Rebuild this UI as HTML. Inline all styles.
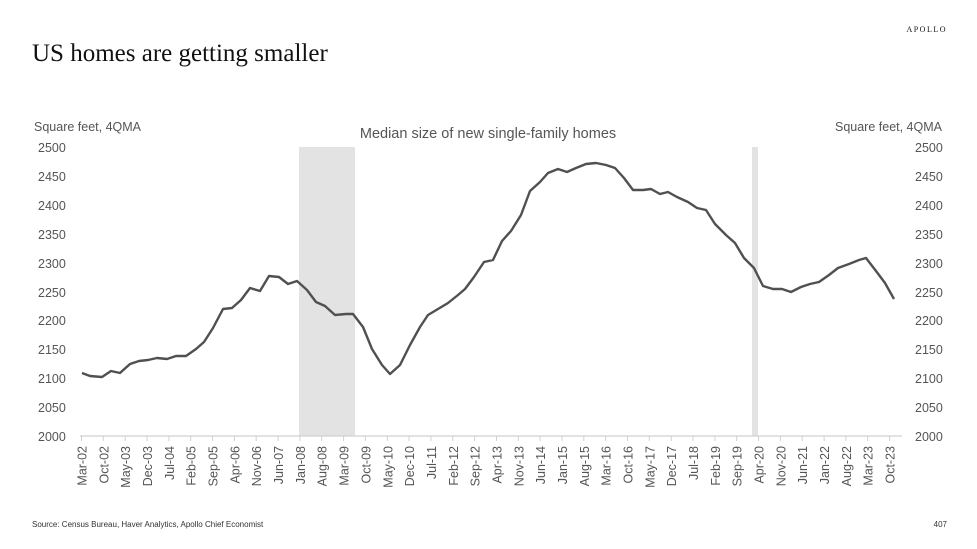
<!DOCTYPE html>
<html><head><meta charset="utf-8"><style>
body{margin:0;background:#fff;}
svg{display:block;}
</style></head><body>
<svg width="977" height="549" viewBox="0 0 977 549" xmlns="http://www.w3.org/2000/svg" font-family="'Liberation Sans', sans-serif">
<text x="32" y="61" font-family="'Liberation Serif', serif" font-size="25" fill="#111">US homes are getting smaller</text>
<text x="947" y="32" font-family="'Liberation Serif', serif" font-size="8" letter-spacing="1.5" text-anchor="end" fill="#111">APOLLO</text>
<text x="34" y="131" font-size="12.5" fill="#555">Square feet, 4QMA</text>
<text x="942" y="131" font-size="12.5" fill="#555" text-anchor="end">Square feet, 4QMA</text>
<text x="488" y="138" font-size="14.5" fill="#555" text-anchor="middle">Median size of new single-family homes</text>
<rect x="299" y="147" width="56" height="289" fill="#e3e3e3"/>
<rect x="752" y="147" width="6" height="289" fill="#e3e3e3"/>
<g font-size="12.5" fill="#555">
<text x="38" y="152">2500</text><text x="38" y="181">2450</text><text x="38" y="210">2400</text><text x="38" y="239">2350</text><text x="38" y="268">2300</text><text x="38" y="297">2250</text><text x="38" y="325">2200</text><text x="38" y="354">2150</text><text x="38" y="383">2100</text><text x="38" y="412">2050</text><text x="38" y="441">2000</text>
<text x="915" y="152">2500</text><text x="915" y="181">2450</text><text x="915" y="210">2400</text><text x="915" y="239">2350</text><text x="915" y="268">2300</text><text x="915" y="297">2250</text><text x="915" y="325">2200</text><text x="915" y="354">2150</text><text x="915" y="383">2100</text><text x="915" y="412">2050</text><text x="915" y="441">2000</text>
</g>
<line x1="80" y1="436" x2="902" y2="436" stroke="#d0d0d0" stroke-width="1.2"/>
<path stroke="#d0d0d0" stroke-width="1" d="M81.5 436v5M103.3 436v5M125.2 436v5M147 436v5M168.9 436v5M190.7 436v5M212.5 436v5M234.4 436v5M256.2 436v5M278.1 436v5M299.9 436v5M321.7 436v5M343.6 436v5M365.4 436v5M387.3 436v5M409.1 436v5M430.9 436v5M452.8 436v5M474.6 436v5M496.5 436v5M518.3 436v5M540.1 436v5M562 436v5M583.8 436v5M605.7 436v5M627.5 436v5M649.3 436v5M671.2 436v5M693 436v5M714.9 436v5M736.7 436v5M758.5 436v5M780.4 436v5M802.2 436v5M824.1 436v5M845.9 436v5M867.7 436v5M889.6 436v5"/>
<g font-size="12.5" fill="#555" text-anchor="end">
<text transform="translate(86.5,446) rotate(-90)">Mar-02</text>
<text transform="translate(108.3,446) rotate(-90)">Oct-02</text>
<text transform="translate(130.2,446) rotate(-90)">May-03</text>
<text transform="translate(152,446) rotate(-90)">Dec-03</text>
<text transform="translate(173.9,446) rotate(-90)">Jul-04</text>
<text transform="translate(195.7,446) rotate(-90)">Feb-05</text>
<text transform="translate(217.5,446) rotate(-90)">Sep-05</text>
<text transform="translate(239.4,446) rotate(-90)">Apr-06</text>
<text transform="translate(261.2,446) rotate(-90)">Nov-06</text>
<text transform="translate(283.1,446) rotate(-90)">Jun-07</text>
<text transform="translate(304.9,446) rotate(-90)">Jan-08</text>
<text transform="translate(326.7,446) rotate(-90)">Aug-08</text>
<text transform="translate(348.6,446) rotate(-90)">Mar-09</text>
<text transform="translate(370.4,446) rotate(-90)">Oct-09</text>
<text transform="translate(392.3,446) rotate(-90)">May-10</text>
<text transform="translate(414.1,446) rotate(-90)">Dec-10</text>
<text transform="translate(435.9,446) rotate(-90)">Jul-11</text>
<text transform="translate(457.8,446) rotate(-90)">Feb-12</text>
<text transform="translate(479.6,446) rotate(-90)">Sep-12</text>
<text transform="translate(501.5,446) rotate(-90)">Apr-13</text>
<text transform="translate(523.3,446) rotate(-90)">Nov-13</text>
<text transform="translate(545.1,446) rotate(-90)">Jun-14</text>
<text transform="translate(567,446) rotate(-90)">Jan-15</text>
<text transform="translate(588.8,446) rotate(-90)">Aug-15</text>
<text transform="translate(610.7,446) rotate(-90)">Mar-16</text>
<text transform="translate(632.5,446) rotate(-90)">Oct-16</text>
<text transform="translate(654.3,446) rotate(-90)">May-17</text>
<text transform="translate(676.2,446) rotate(-90)">Dec-17</text>
<text transform="translate(698,446) rotate(-90)">Jul-18</text>
<text transform="translate(719.9,446) rotate(-90)">Feb-19</text>
<text transform="translate(741.7,446) rotate(-90)">Sep-19</text>
<text transform="translate(763.5,446) rotate(-90)">Apr-20</text>
<text transform="translate(785.4,446) rotate(-90)">Nov-20</text>
<text transform="translate(807.2,446) rotate(-90)">Jun-21</text>
<text transform="translate(829.1,446) rotate(-90)">Jan-22</text>
<text transform="translate(850.9,446) rotate(-90)">Aug-22</text>
<text transform="translate(872.7,446) rotate(-90)">Mar-23</text>
<text transform="translate(894.6,446) rotate(-90)">Oct-23</text>
</g>
<polyline fill="none" stroke="#505050" stroke-width="2.4" stroke-linejoin="round" points="82,373 90,376 102,377 111,371 120,373 130,364 139,361 148,360 157,358 167,359 176,356 186,356 196,349 204,342 213,328 223,309 232,308 241,300 250,288 260,291 269,276 279,277 288,284 297,281 307,290 316,302 325,306 335,315 346,314 353,314 363,327 372,349 382,365 390,374 400,365 410,345 420,327 428,315 438,309 448,303 458,295 465,289 474,277 484,262 493,260 502,241 511,231 521,215 530,191 540,182 548,173 558,169 567,172 576,168 586,164 596,163 606,165 615,168 624,178 633,190 643,190 651,189 660,194 668,192 677,197 688,202 697,208 706,210 715,224 726,235 735,243 744,258 754,268 763,286 773,289 782,289 791,292 801,287 810,284 819,282 829,275 838,268 849,264 859,260 866,258 876,271 885,283 894,299"/>
<text x="32" y="527" font-size="8" fill="#333">Source: Census Bureau, Haver Analytics, Apollo Chief Economist</text>
<text x="947" y="527" font-size="8" fill="#333" text-anchor="end">407</text>
</svg>
</body></html>
